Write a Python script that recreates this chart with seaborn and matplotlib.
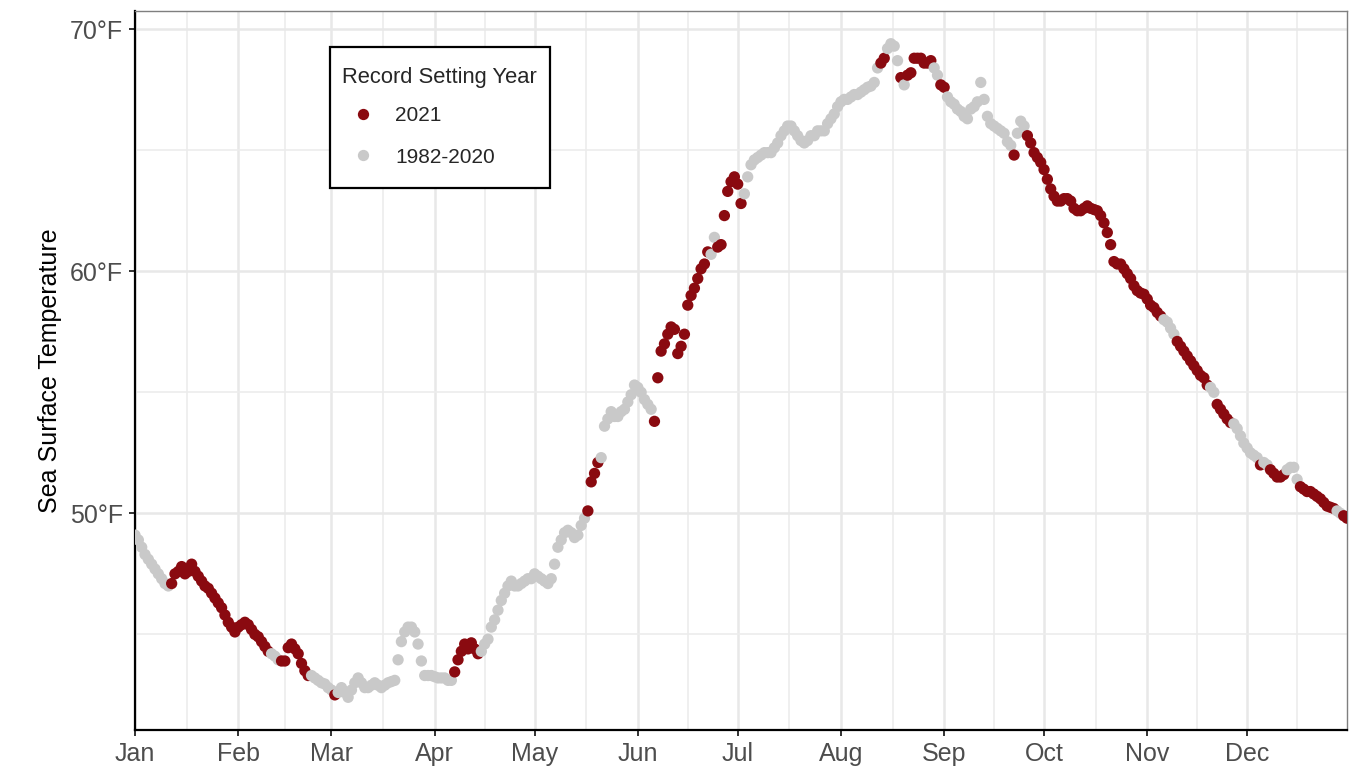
import numpy as np
import pandas as pd
import matplotlib
matplotlib.use("Agg")
import matplotlib.pyplot as plt
from matplotlib.patches import Rectangle
import seaborn as sns

# Daily sea surface temperature (°F), one list per month
jan = [49.1, 48.9, 48.6, 48.3, 48.1, 47.9, 47.7, 47.5, 47.3, 47.1, 47.0, 47.1, 47.5, 47.6, 47.8, 47.5,
       47.6, 47.9, 47.6, 47.4, 47.2, 47.0, 46.9, 46.7, 46.5, 46.3, 46.1, 45.8, 45.5, 45.3, 45.1]
feb = [45.3, 45.4, 45.5, 45.4, 45.2, 45.0, 44.9, 44.7, 44.5, 44.3, 44.2, 44.1, 43.95, 43.9, 43.9, 44.45,
       44.6, 44.4, 44.2, 43.8, 43.5, 43.3, 43.3, 43.2, 43.1, 43.0, 42.95, 42.8]
mar = [42.7, 42.5, 42.6, 42.8, 42.6, 42.4, 42.7, 43.0, 43.2, 43.0, 42.8, 42.8, 42.9, 43.0, 42.9, 42.8,
       42.9, 43.0, 43.05, 43.1, 43.95, 44.7, 45.1, 45.3, 45.3, 45.1, 44.6, 43.9, 43.3, 43.3, 43.3]
apr = [43.25, 43.2, 43.2, 43.2, 43.1, 43.1, 43.45, 43.95, 44.3, 44.6, 44.4, 44.65, 44.4, 44.2, 44.3,
       44.6, 44.8, 45.3, 45.6, 46.0, 46.4, 46.7, 47.0, 47.2, 47.0, 47.0, 47.1, 47.2, 47.3, 47.3]
may = [47.5, 47.4, 47.3, 47.2, 47.1, 47.3, 47.9, 48.6, 48.9, 49.2, 49.3, 49.2, 49.0, 49.1, 49.5, 49.8,
       50.1, 51.3, 51.65, 52.1, 52.3, 53.6, 53.9, 54.2, 54.0, 54.0, 54.2, 54.3, 54.6, 54.9, 55.3]
jun = [55.2, 55.0, 54.7, 54.5, 54.3, 53.8, 55.6, 56.7, 57.0, 57.4, 57.7, 57.6, 56.6, 56.9, 57.4, 58.6,
       59.0, 59.3, 59.7, 60.1, 60.3, 60.8, 60.7, 61.4, 61.0, 61.1, 62.3, 63.3, 63.7, 63.9]
jul = [63.6, 62.8, 63.2, 63.9, 64.4, 64.6, 64.7, 64.8, 64.9, 64.9, 64.9, 65.1, 65.3, 65.6, 65.8, 66.0,
       66.0, 65.8, 65.6, 65.4, 65.3, 65.4, 65.6, 65.6, 65.8, 65.8, 65.8, 66.1, 66.3, 66.5, 66.8]
aug = [67.0, 67.1, 67.1, 67.2, 67.3, 67.3, 67.4, 67.5, 67.6, 67.65, 67.8, 68.4, 68.6, 68.8, 69.2, 69.4,
       69.3, 68.7, 68.0, 67.7, 68.1, 68.2, 68.8, 68.8, 68.8, 68.6, 68.6, 68.7, 68.4, 68.1, 67.7]
sep = [67.6, 67.2, 67.0, 66.9, 66.7, 66.6, 66.4, 66.3, 66.7, 66.8, 67.0, 67.8, 67.1, 66.4, 66.1, 66.0,
       65.9, 65.8, 65.7, 65.35, 65.2, 64.8, 65.7, 66.2, 66.0, 65.6, 65.3, 64.9, 64.7, 64.5]
oct_ = [64.2, 63.8, 63.4, 63.1, 62.9, 62.9, 63.0, 63.0, 62.9, 62.6, 62.5, 62.5, 62.6, 62.7, 62.6, 62.55,
        62.5, 62.3, 62.0, 61.6, 61.1, 60.4, 60.3, 60.3, 60.1, 59.9, 59.7, 59.4, 59.2, 59.1, 59.05]
nov = [58.85, 58.6, 58.5, 58.3, 58.15, 58.0, 57.9, 57.65, 57.4, 57.1, 56.9, 56.7, 56.5, 56.3, 56.1, 55.9,
       55.7, 55.6, 55.3, 55.2, 55.0, 54.5, 54.3, 54.1, 53.9, 53.75, 53.7, 53.5, 53.2, 52.9]
dec = [52.7, 52.5, 52.4, 52.3, 52.0, 52.1, 52.0, 51.8, 51.65, 51.5, 51.5, 51.6, 51.8, 51.9, 51.9, 51.4,
       51.1, 51.0, 50.9, 50.9, 50.8, 50.7, 50.6, 50.45, 50.3, 50.25, 50.2, 50.1, 50.0, 49.9, 49.8]

# Record-setting year per day: 1 = set in 2021, 0 = set in 1982-2020
jan_rec = "0000000000011111111111111111111"
feb_rec = "1111111111000111111111000000"
mar_rec = "0100000000000000000000000000000"
apr_rec = "000000111111110000000000000000"
may_rec = "0000000000000000111100000000000"
jun_rec = "000001111111111111111100111111"
jul_rec = "1100000000000000000000000000000"
aug_rec = "0000000000001100001011111111001"
sep_rec = "100000000000000000000100011111"
oct_rec = "1111111111111111111111111111111"
nov_rec = "111110000111111111100111110000"
dec_rec = "0000100111110000111111111110011"

month_labels = ["Jan", "Feb", "Mar", "Apr", "May", "Jun",
                "Jul", "Aug", "Sep", "Oct", "Nov", "Dec"]
series_labels = ["2021", "1982-2020"]
y_ticks = [50, 60, 70]

temps = jan + feb + mar + apr + may + jun + jul + aug + sep + oct_ + nov + dec
flags = (jan_rec + feb_rec + mar_rec + apr_rec + may_rec + jun_rec +
         jul_rec + aug_rec + sep_rec + oct_rec + nov_rec + dec_rec)
month_lengths = [len(m) for m in (jan, feb, mar, apr, may, jun, jul, aug, sep, oct_, nov, dec)]
month_starts = np.concatenate([[0], np.cumsum(month_lengths)[:-1]])

df = pd.DataFrame({
    "day": np.arange(len(temps)),
    "temp": temps,
    "Record Setting Year": [series_labels[0] if f == "1" else series_labels[1] for f in flags],
})

sns.set_style("white")
plt.rcParams["font.family"] = ["Liberation Sans", "DejaVu Sans"]

fig = plt.figure(figsize=(13.53, 7.77), dpi=100)
ax = fig.add_axes([0.0998, 0.0605, 0.8958, 0.9253])

sns.scatterplot(
    data=df, x="day", y="temp", hue="Record Setting Year",
    hue_order=series_labels,
    palette={series_labels[0]: "#8A0A10", series_labels[1]: "#C9C9C9"},
    s=66, linewidth=0, ax=ax, zorder=3,
)

# axis limits with ggplot-like y expansion
n_days = len(temps)
ax.set_xlim(0, n_days - 1)
lo, hi = min(temps), max(temps)
pad = 0.05 * (hi - lo)
ax.set_ylim(lo - pad, hi + pad)

# month ticks and half-month minor gridlines
ax.set_xticks(month_starts)
ax.set_xticklabels(month_labels)
ends = list(month_starts[1:]) + [n_days - 1]
ax.set_xticks([(a + b) / 2 for a, b in zip(month_starts, ends)], minor=True)
ax.set_yticks(y_ticks)
ax.set_yticklabels([f"{v}°F" for v in y_ticks])
ax.set_yticks([45, 55, 65], minor=True)

ax.grid(which="major", color="#E8E8E8", linewidth=1.8)
ax.grid(which="minor", color="#ECECEC", linewidth=1.2)
ax.set_axisbelow(True)

ax.tick_params(axis="both", which="major", length=4.5, width=1.3, color="#222222",
               labelsize=18, labelcolor="#4D4D4D", pad=4, direction="out",
               bottom=True, left=True)
ax.tick_params(which="minor", length=0)

for side in ("left", "bottom"):
    ax.spines[side].set_color("black")
    ax.spines[side].set_linewidth(1.6)
for side in ("top", "right"):
    ax.spines[side].set_color("#7F7F7F")
    ax.spines[side].set_linewidth(1.0)

ax.set_xlabel("")
ax.set_ylabel("Sea Surface Temperature", fontsize=18, color="black", labelpad=6)

# legend box drawn as its own rectangle so its padding can follow the ggplot look
ax.add_patch(Rectangle((0.1609, 0.7538), 0.1815, 0.1961, transform=ax.transAxes,
                       facecolor="white", edgecolor="black", linewidth=1.6, zorder=4,
                       clip_on=False))
handles, labels = ax.get_legend_handles_labels()
leg = ax.legend(
    handles, labels, title="Record Setting Year",
    loc="upper left", bbox_to_anchor=(0.1708, 0.922), borderaxespad=0,
    fontsize=15, title_fontsize=15.8, frameon=False, borderpad=0,
    labelspacing=1.1, handlelength=2.0, handletextpad=0.55, alignment="left",
)
leg._legend_box.sep = 0.85 * 15
leg.set_zorder(5)

fig.savefig("out.png", dpi=100)
